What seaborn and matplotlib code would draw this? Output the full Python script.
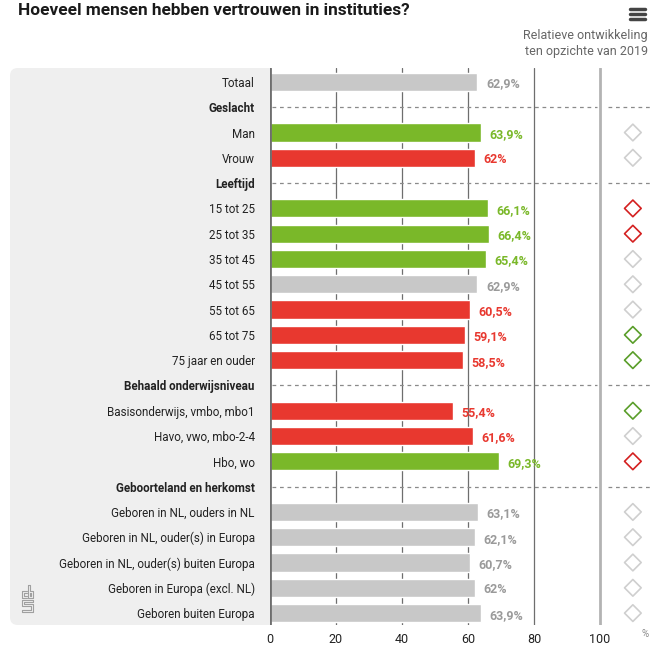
import numpy as np
import pandas as pd
import matplotlib
matplotlib.use("Agg")
import matplotlib.pyplot as plt
import seaborn as sns
from matplotlib.patches import FancyBboxPatch
from matplotlib.lines import Line2D

labels = ["Totaal", "Geslacht", "Man", "Vrouw", "Leeftijd",
          "15 tot 25", "25 tot 35", "35 tot 45", "45 tot 55", "55 tot 65",
          "65 tot 75", "75 jaar en ouder", "Behaald onderwijsniveau",
          "Basisonderwijs, vmbo, mbo1", "Havo, vwo, mbo-2-4", "Hbo, wo",
          "Geboorteland en herkomst", "Geboren in NL, ouders in NL",
          "Geboren in NL, ouder(s) in Europa", "Geboren in NL, ouder(s) buiten Europa",
          "Geboren in Europa (excl. NL)", "Geboren buiten Europa"]
headers = ["Geslacht", "Leeftijd", "Behaald onderwijsniveau", "Geboorteland en herkomst"]
values = [62.9, np.nan, 63.9, 62.0, np.nan,
          66.1, 66.4, 65.4, 62.9, 60.5, 59.1, 58.5, np.nan,
          55.4, 61.6, 69.3, np.nan,
          63.1, 62.1, 60.7, 62.0, 63.9]
# kleur van de balk: hoger / lager / gelijk t.o.v. totaal
bar_kind = ["neutraal", None, "hoger", "lager", None,
            "hoger", "hoger", "hoger", "neutraal", "lager", "lager", "lager", None,
            "lager", "lager", "hoger", None,
            "neutraal", "neutraal", "neutraal", "neutraal", "neutraal"]
# ontwikkeling t.o.v. 2019
trend = [None, None, "gelijk", "gelijk", None,
         "daling", "daling", "gelijk", "gelijk", "gelijk", "stijging", "stijging", None,
         "stijging", "gelijk", "daling", None,
         "gelijk", "gelijk", "gelijk", "gelijk", "gelijk"]
xticks = [0, 20, 40, 60, 80, 100]

bar_pal = {"hoger": "#7ab829", "lager": "#e8382f", "neutraal": "#c8c8c8"}
txt_pal = {"hoger": "#7ab829", "lager": "#e8382f", "neutraal": "#9a9a9a"}
trend_pal = {"daling": "#d42020", "stijging": "#5a9e2a", "gelijk": "#cfcfcf"}

sns.set_theme(style="white")
plt.rcParams["font.family"] = ["Roboto", "DejaVu Sans"]

df = pd.DataFrame({"label": labels, "waarde": values, "soort": bar_kind})
bars = df.dropna()

fig = plt.figure(figsize=(6.51, 6.46), dpi=100)
W, H = 651, 646
ax = fig.add_axes([270 / W, 1 - 625 / H, 381 / W, 557 / H])

# grijs paneel achter de labels
panel = FancyBboxPatch((10 / W, 1 - 625 / H), 280 / W, 557 / H,
                       boxstyle="round,pad=0,rounding_size=0.012",
                       transform=fig.transFigure, facecolor="#efefef",
                       edgecolor="none", zorder=-5)
fig.add_artist(panel)

sns.barplot(data=bars, x="waarde", y="label", hue="soort", order=labels,
            palette=bar_pal, dodge=False, width=0.72, orient="h",
            legend=False, ax=ax, saturation=1, zorder=2)

ax.set_xlim(0, 115.5)
ax.set_ylim(21.47, -0.55)
for s in ax.spines.values():
    s.set_visible(False)

for t in xticks[1:-1]:
    ax.axvline(t, color="#6e6e6e", lw=0.9, zorder=0.5)
ax.axvline(100, color="#b3b3b3", lw=2, zorder=0.5)
ax.axvline(0, color="#6e6e6e", lw=2, zorder=5)

for i, (lab, v, k, tr) in enumerate(zip(labels, values, bar_kind, trend)):
    if lab in headers:
        ax.plot([0.5, 99], [i, i], color="#8a8a8a", lw=0.9, ls=(0, (3, 3)), zorder=1)
        ax.plot([102.5, 115.5], [i, i], color="#8a8a8a", lw=0.9, ls=(0, (3, 3)), zorder=1)
        continue
    txt = (f"{v:.1f}".replace(".", ",") if v != int(v) else f"{int(v)}") + "%"
    ax.text(v + 2.6, i + 0.08, txt, color=txt_pal[k], fontsize=9,
            fontweight="bold", va="center", ha="left")
    if tr is not None:
        ax.scatter(110, i, marker="D", s=72, facecolors="none",
                   edgecolors=trend_pal[tr], linewidths=1.2, zorder=3)

ax.set_yticks(range(len(labels)))
ax.set_yticklabels(labels)
for tl in ax.get_yticklabels():
    tl.set_color("#222222")
    tl.set_fontsize(8.4)
    if tl.get_text() in headers:
        tl.set_fontweight("bold")
ax.tick_params(axis="y", length=0, pad=11)
ax.set_xticks(xticks)
ax.set_xticklabels([str(t) for t in xticks])
ax.tick_params(axis="x", length=0, pad=6, labelsize=9, labelcolor="#222222")
ax.set_xlabel("")
ax.set_ylabel("")

fig.text(18 / W, 1 - 15 / H, "Hoeveel mensen hebben vertrouwen in instituties?",
         fontsize=12.4, fontweight="bold", color="#1a1a1a", va="baseline", ha="left")
fig.text(648 / W, 1 - 36 / H, "Relatieve ontwikkeling", fontsize=9,
         color="#666666", va="center", ha="right")
fig.text(648 / W, 1 - 52 / H, "ten opzichte van 2019", fontsize=9,
         color="#666666", va="center", ha="right")
fig.text(645 / W, 1 - 634 / H, "%", fontsize=7, color="#888888", va="center", ha="center")

# menu-icoon rechtsboven
for yy in (9, 14, 19):
    fig.add_artist(Line2D([630 / W, 645 / W], [1 - yy / H, 1 - yy / H],
                          color="#444444", lw=2.5, transform=fig.transFigure))

# eenvoudig cbs-logo linksonder
logo = [
    [(27, 591), (22, 591), (22, 598), (27, 598)],
    [(27, 593), (24, 593), (24, 596), (27, 596)],
    [(28, 585), (28, 598), (33, 598), (33, 591), (30, 591), (30, 585), (28, 585)],
    [(30, 593), (31, 593), (31, 596), (30, 596), (30, 593)],
    [(33, 600), (22, 600), (22, 606), (31, 606), (31, 610), (22, 610), (22, 612),
     (33, 612), (33, 604), (24, 604), (24, 602), (33, 602), (33, 600)],
]
for pts in logo:
    xs = [p[0] / W for p in pts]
    ys = [1 - p[1] / H for p in pts]
    fig.add_artist(Line2D(xs, ys, color="#a0a0a0", lw=0.8, transform=fig.transFigure))

fig.savefig("out.png", dpi=100)
